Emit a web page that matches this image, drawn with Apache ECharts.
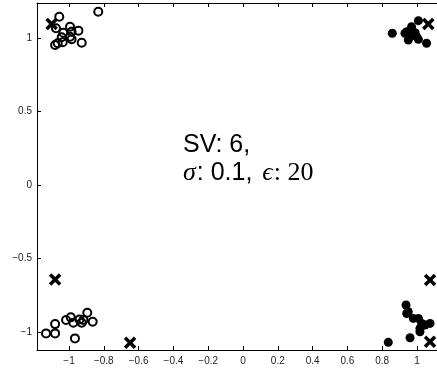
<!DOCTYPE html>
<html>
<head>
<meta charset="utf-8">
<script src="https://cdn.jsdelivr.net/npm/echarts@6/dist/echarts.min.js"></script>
<style>
  html, body { margin: 0; padding: 0; background: #fff; }
  #chart { width: 437px; height: 369px; }
</style>
</head>
<body>
<div id="chart"></div>
<script>
// Tick positions for the two axes
const xTicks = [-1, -0.8, -0.6, -0.4, -0.2, 0, 0.2, 0.4, 0.6, 0.8, 1];
const yTicks = [-1, -0.5, 0, 0.5, 1];

// Class "o" samples (hollow circles)
const hollowPoints = [
  [-0.832, 1.179], [-1.056, 1.145], [-1.075, 1.066], [-0.994, 1.077],
  [-1.033, 1.036], [-0.985, 1.043], [-0.946, 1.050], [-0.994, 1.009],
  [-1.042, 1.005], [-0.985, 0.991], [-0.927, 0.968], [-1.065, 0.964],
  [-1.036, 0.971], [-1.080, 0.952],
  [-1.132, -1.009], [-1.080, -1.009], [-1.080, -0.946], [-1.017, -0.918],
  [-0.990, -0.900], [-0.975, -0.937], [-0.940, -0.914], [-0.927, -0.937],
  [-0.917, -0.918], [-0.895, -0.869], [-0.864, -0.930], [-0.966, -1.043]
];

// Class "•" samples (filled dots)
const filledPoints = [
  [0.858, 1.032], [1.008, 1.118], [0.969, 1.077], [0.941, 1.043],
  [0.979, 1.032], [0.931, 1.032], [0.998, 1.009], [0.960, 1.009],
  [0.989, 1.036], [0.950, 0.986], [1.008, 0.991], [1.055, 0.964],
  [0.835, -1.070], [0.960, -1.039], [0.937, -0.816], [0.950, -0.862],
  [0.941, -0.874], [0.979, -0.907], [1.008, -0.907], [1.027, -0.941],
  [1.017, -0.975], [1.017, -0.998], [1.075, -0.941], [1.046, -0.952]
];

// Support vectors (crosses)
const supportVectors = [
  [-1.100, 1.095], [1.065, 1.095], [-1.080, -0.642],
  [-0.649, -1.073], [1.075, -0.646], [1.075, -1.066]
];

const minus = v => String(v).replace('-', '\u2212');
const labelFont = { fontFamily: 'Liberation Sans, Arial, sans-serif', fontSize: 10, color: '#222' };

const chart = echarts.init(document.getElementById('chart'), null, { renderer: 'canvas' });

chart.setOption({
  animation: false,
  backgroundColor: '#fff',
  grid: { left: 37, top: 3, right: 0, bottom: 19, containLabel: false },
  xAxis: [
    {
      type: 'value', min: -1.184, max: 1.115, position: 'bottom',
      splitLine: { show: false },
      axisLine: { show: true, onZero: false, lineStyle: { color: '#000', width: 1 } },
      axisTick: { show: true, inside: true, length: 4, customValues: xTicks, lineStyle: { color: '#000' } },
      axisLabel: Object.assign({ customValues: xTicks, margin: 6, formatter: minus }, labelFont)
    },
    {
      type: 'value', min: -1.184, max: 1.115, position: 'top',
      splitLine: { show: false },
      axisLine: { show: true, onZero: false, lineStyle: { color: '#000', width: 1 } },
      axisTick: { show: true, inside: true, length: 4, customValues: xTicks, lineStyle: { color: '#000' } },
      axisLabel: { show: false }
    }
  ],
  yAxis: {
    type: 'value', min: -1.122, max: 1.238,
    splitLine: { show: false },
    axisLine: { show: true, onZero: false, lineStyle: { color: '#000', width: 1 } },
    axisTick: { show: true, inside: true, length: 4, customValues: yTicks, lineStyle: { color: '#000' } },
    axisLabel: Object.assign({ customValues: yTicks, margin: 5, formatter: minus }, labelFont)
  },
  series: [
    {
      type: 'scatter', data: hollowPoints, symbol: 'circle', symbolSize: 8,
      itemStyle: { color: 'rgba(0,0,0,0)', borderColor: '#000', borderWidth: 2, opacity: 1 }
    },
    {
      type: 'scatter', data: filledPoints, symbol: 'circle', symbolSize: 9,
      itemStyle: { color: '#000', opacity: 1 }
    },
    {
      type: 'scatter', data: supportVectors,
      symbol: 'path://M0,0L10,10M10,0L0,10', symbolSize: 10,
      itemStyle: { color: 'rgba(0,0,0,0)', borderColor: '#000', borderWidth: 3.5, opacity: 1 }
    }
  ],
  graphic: [
    {
      type: 'text', left: 183, top: 133,
      style: {
        text: 'SV: 6,',
        font: '25px "Liberation Sans", Arial, sans-serif',
        fill: '#000'
      }
    },
    {
      type: 'text', left: 183, top: 160,
      style: {
        text: '{g|σ}{s|: 0.1, }{g|ϵ}{r|: 20}',
        fill: '#000',
        rich: {
          g: { fontFamily: '"Liberation Serif", "DejaVu Serif", serif', fontStyle: 'italic', fontSize: 26, fill: '#000', padding: [0, 1, 0, 0] },
          s: { fontFamily: '"Liberation Sans", Arial, sans-serif', fontSize: 25, fill: '#000', padding: [0, 3, 0, 0] },
          r: { fontFamily: '"Liberation Serif", "DejaVu Serif", serif', fontSize: 26, fill: '#000' }
        }
      }
    }
  ]
});
</script>
</body>
</html>
